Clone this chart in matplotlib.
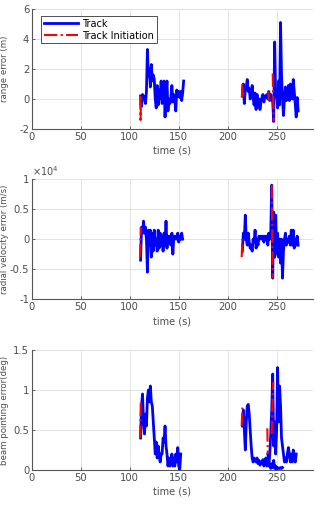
import numpy as np
import matplotlib.pyplot as plt

# range error (m)
t_r1 = np.arange(111, 156)
r1 = [0.2, -0.5, 0.3, 0.2, 0.1, -0.3, 0.5, 3.3, 1.5, 2.0, 0.8, 2.3, 1.2, 1.6, 1.3,
      0.0, -0.6, 0.9, -0.4, 0.6, 0.0, 1.2, -0.3, 0.2, 1.2, -1.2, 0.3, 1.2, -0.8, 0.0,
      -0.3, 0.1, 0.9, -0.2, 0.3, 0.0, -0.8, 0.6, 0.2, 0.5, 0.1, 0.5, -0.1, 0.4, 1.2]
t_r2 = np.arange(215, 273)
r2 = [0.2, 1.0, -0.3, 0.6, 0.8, 1.3, 0.5, 0.7, 0.0, 0.3, 0.9, 0.1, -0.4, 0.4, -0.7,
      0.3, -0.5, 0.0, -0.7, -0.2, 0.1, 0.3, -0.2, 0.2, 0.1, 0.3, 0.0, 0.5, -0.1, 0.3,
      0.0, -0.2, -1.5, 3.8, 0.2, 0.4, -0.6, 1.2, -0.4, 5.1, 1.6, 0.0, -1.1, 0.0, 0.8,
      -0.1, 0.0, 0.9, -0.1, 1.0, 0.6, 0.0, 1.3, 0.5, -0.3, -1.2, 0.1, -0.8]
ti_r = [[110.5, 111, 111.5], [214.5, 215, 215.8], [241.5, 242], [246, 246.5, 247]]
ri_r = [[0.2, -1.4, 0.1], [0.1, 1.0, 0.2], [0.5, -0.1], [1.7, -0.2, -1.5]]

# radial velocity error (x10^4 m/s)
t_v1 = np.arange(111, 155)
v1 = [-0.35, 0.2, 0.1, 0.3, 0.1, 0.2, 0.0, -0.55, 0.15, -0.1, 0.15, -0.3, 0.1, -0.2,
      0.15, -0.1, 0.0, -0.2, 0.15, -0.15, 0.1, -0.1, 0.05, -0.2, 0.1, -0.1, 0.3, -0.15,
      0.05, 0.0, 0.05, -0.1, 0.1, -0.25, 0.05, 0.0, 0.05, 0.0, 0.1, -0.05, 0.05, 0.0,
      0.1, 0.0]
t_v2 = np.arange(215, 273)
v2 = [-0.2, 0.1, 0.0, 0.4, 0.0, -0.1, 0.1, -0.05, -0.15, -0.1, -0.2, 0.0, -0.05, 0.15,
      -0.15, 0.0, -0.1, 0.05, 0.0, 0.05, 0.0, 0.05, -0.05, 0.05, 0.0, 0.05, -0.1, 0.1,
      0.0, 0.1, 0.9, -0.65, 0.45, -0.3, 0.4, -0.25, 0.1, -0.3, 0.0, -0.4, 0.0, -0.65,
      -0.2, 0.0, 0.1, -0.1, 0.0, -0.05, 0.05, -0.1, 0.15, -0.1, 0.15, -0.15, 0.0, -0.1,
      0.05, -0.1]
ti_v = [[110.5, 111.2], [214.3, 215], [245, 245.5, 246]]
vi_v = [[-0.3, 0.2], [-0.3, 0.0], [0.9, 0.2, -0.65]]

# beam pointing error (deg)
t_b1 = np.arange(111, 153)
b1 = [0.4, 0.8, 0.95, 0.6, 0.45, 0.7, 0.55, 0.9, 1.0, 0.85, 1.05, 0.85, 0.8, 0.6,
      0.4, 0.2, 0.35, 0.15, 0.3, 0.2, 0.1, 0.2, 0.2, 0.4, 0.35, 0.55, 0.3, 0.2, 0.05,
      0.15, 0.05, 0.1, 0.2, 0.05, 0.15, 0.05, 0.2, 0.1, 0.28, 0.05, 0.0, 0.2]
t_b2 = np.arange(215, 271)
b2 = [0.55, 0.75, 0.5, 0.25, 0.6, 0.8, 0.82, 0.7, 0.5, 0.3, 0.15, 0.1, 0.15, 0.12,
      0.1, 0.15, 0.08, 0.12, 0.06, 0.1, 0.08, 0.13, 0.05, 0.1, 0.15, 0.05, 0.1, 0.05,
      0.2, 0.45, 0.75, 1.2, 0.3, 0.6, 0.2, 0.5, 1.28, 0.6, 1.05, 0.8, 0.4, 0.3, 0.2,
      0.1, 0.15, 0.1, 0.2, 0.28, 0.2, 0.1, 0.2, 0.1, 0.25, 0.15, 0.1, 0.2]
t_b3 = np.arange(241, 257)
b3 = [0.2, 0.1, 0.05, 0.02, 0.08, 0.03, 0.12, 0.02, 0.05, 0.01, 0.03, 0.02, 0.02,
      0.03, 0.02, 0.03]
ti_b = [[110.5, 111.2], [214.3, 215], [240.5, 241], [245, 245.7, 246.5]]
bi_b = [[0.4, 0.85], [0.55, 0.78], [0.52, 0.2], [0.45, 0.8, 1.1]]

xticks = [0, 50, 100, 150, 200, 250]
gray = '#4d4d4d'

fig = plt.figure(figsize=(3.16, 5.14), dpi=100)
rects = [[0.101, 0.749, 0.889, 0.2335],
         [0.101, 0.418, 0.889, 0.2335],
         [0.101, 0.0856, 0.889, 0.2335]]

panels = [
    ([(t_r1, r1), (t_r2, r2)], (ti_r, ri_r), (-2, 6), [-2, 0, 2, 4, 6], 'range error (m)'),
    ([(t_v1, v1), (t_v2, v2)], (ti_v, vi_v), (-1, 1), [-1, -0.5, 0, 0.5, 1],
     'radial velocity error (m/s)'),
    ([(t_b1, b1), (t_b2, b2), (t_b3, b3)], (ti_b, bi_b), (0, 1.5), [0, 0.5, 1, 1.5],
     'beam pointing error(deg)'),
]

for i, (tracks, inits, ylim, yticks, ylab) in enumerate(panels):
    ax = fig.add_axes(rects[i])
    for k, (t, y) in enumerate(tracks):
        ax.plot(t, y, color='#0000ff', lw=2, label='Track' if k == 0 else None)
    for k, (t, y) in enumerate(zip(*inits)):
        ax.plot(t, y, color='#ff0000', ls='-.', lw=1.5,
                label='Track Initiation' if k == 0 else None)
    ax.set_xlim(0, 287)
    ax.set_ylim(*ylim)
    ax.set_xticks(xticks)
    ax.set_yticks(yticks)
    ax.set_yticklabels(['%g' % v for v in yticks])
    ax.grid(True, color='#e3e3e3', lw=0.7)
    ax.set_axisbelow(True)
    for s in ['top', 'right']:
        ax.spines[s].set_visible(False)
    for s in ['left', 'bottom']:
        ax.spines[s].set_color('#555555')
        ax.spines[s].set_linewidth(0.8)
    ax.tick_params(labelsize=7.2, colors=gray, length=2, width=0.6, direction='in',
                   pad=2)
    ax.set_xlabel('time (s)', fontsize=7, color=gray, labelpad=3)
    ax.set_ylabel(ylab, fontsize=6.2, color=gray)
    ax.yaxis.set_label_coords(-0.083, 0.5)
    if i == 0:
        leg = ax.legend(loc='upper left', fontsize=7, fancybox=False, framealpha=1,
                        edgecolor='#333333', borderpad=0.3, labelspacing=0.2,
                        handlelength=3.5, handletextpad=0.4,
                        bbox_to_anchor=(0.015, 0.985))
        leg.get_frame().set_linewidth(0.6)
    if i == 1:
        ax.text(0.0, 1.01, r'$\times10^4$', transform=ax.transAxes, fontsize=7,
                color=gray, ha='left', va='bottom')

fig.savefig('out.png', dpi=100)
